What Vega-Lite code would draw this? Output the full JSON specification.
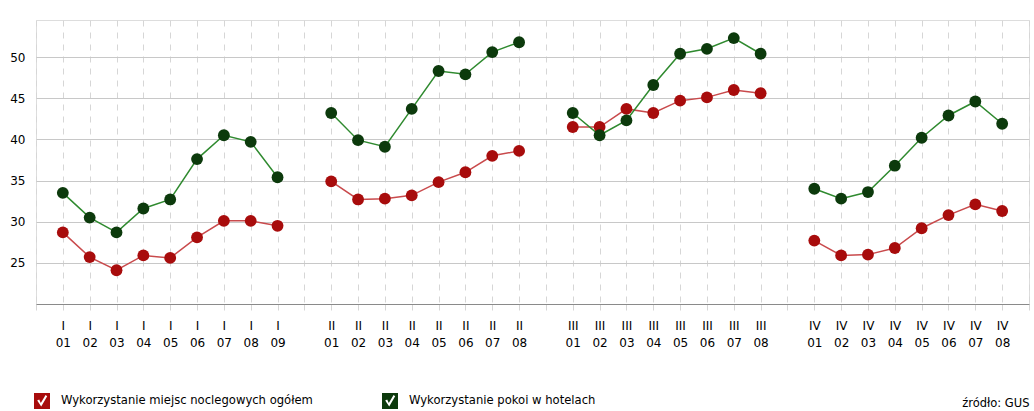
{
  "$schema": "https://vega.github.io/schema/vega-lite/v6.json",
  "width": 993,
  "height": 284,
  "autosize": "none",
  "padding": {"left": 36, "top": 20, "right": 5, "bottom": 107},
  "background": "white",
  "title": {"text": "źródło: GUS", "orient": "bottom", "anchor": "end", "fontSize": 11.5, "fontWeight": "normal", "font": "DejaVu Sans", "color": "#000000", "offset": 0, "dy": -11},
  "data": {"values": [
    {"k": "I 01", "q": "I", "s": "Wykorzystanie miejsc noclegowych ogółem", "v": 28.7},
    {"k": "I 02", "q": "I", "s": "Wykorzystanie miejsc noclegowych ogółem", "v": 25.7},
    {"k": "I 03", "q": "I", "s": "Wykorzystanie miejsc noclegowych ogółem", "v": 24.1},
    {"k": "I 04", "q": "I", "s": "Wykorzystanie miejsc noclegowych ogółem", "v": 25.9},
    {"k": "I 05", "q": "I", "s": "Wykorzystanie miejsc noclegowych ogółem", "v": 25.6},
    {"k": "I 06", "q": "I", "s": "Wykorzystanie miejsc noclegowych ogółem", "v": 28.1},
    {"k": "I 07", "q": "I", "s": "Wykorzystanie miejsc noclegowych ogółem", "v": 30.1},
    {"k": "I 08", "q": "I", "s": "Wykorzystanie miejsc noclegowych ogółem", "v": 30.1},
    {"k": "I 09", "q": "I", "s": "Wykorzystanie miejsc noclegowych ogółem", "v": 29.5},
    {"k": "II 01", "q": "II", "s": "Wykorzystanie miejsc noclegowych ogółem", "v": 34.9},
    {"k": "II 02", "q": "II", "s": "Wykorzystanie miejsc noclegowych ogółem", "v": 32.7},
    {"k": "II 03", "q": "II", "s": "Wykorzystanie miejsc noclegowych ogółem", "v": 32.8},
    {"k": "II 04", "q": "II", "s": "Wykorzystanie miejsc noclegowych ogółem", "v": 33.2},
    {"k": "II 05", "q": "II", "s": "Wykorzystanie miejsc noclegowych ogółem", "v": 34.8},
    {"k": "II 06", "q": "II", "s": "Wykorzystanie miejsc noclegowych ogółem", "v": 36.0},
    {"k": "II 07", "q": "II", "s": "Wykorzystanie miejsc noclegowych ogółem", "v": 38.0},
    {"k": "II 08", "q": "II", "s": "Wykorzystanie miejsc noclegowych ogółem", "v": 38.6},
    {"k": "III 01", "q": "III", "s": "Wykorzystanie miejsc noclegowych ogółem", "v": 41.5},
    {"k": "III 02", "q": "III", "s": "Wykorzystanie miejsc noclegowych ogółem", "v": 41.5},
    {"k": "III 03", "q": "III", "s": "Wykorzystanie miejsc noclegowych ogółem", "v": 43.7},
    {"k": "III 04", "q": "III", "s": "Wykorzystanie miejsc noclegowych ogółem", "v": 43.2},
    {"k": "III 05", "q": "III", "s": "Wykorzystanie miejsc noclegowych ogółem", "v": 44.7},
    {"k": "III 06", "q": "III", "s": "Wykorzystanie miejsc noclegowych ogółem", "v": 45.1},
    {"k": "III 07", "q": "III", "s": "Wykorzystanie miejsc noclegowych ogółem", "v": 46.0},
    {"k": "III 08", "q": "III", "s": "Wykorzystanie miejsc noclegowych ogółem", "v": 45.6},
    {"k": "IV 01", "q": "IV", "s": "Wykorzystanie miejsc noclegowych ogółem", "v": 27.7},
    {"k": "IV 02", "q": "IV", "s": "Wykorzystanie miejsc noclegowych ogółem", "v": 25.9},
    {"k": "IV 03", "q": "IV", "s": "Wykorzystanie miejsc noclegowych ogółem", "v": 26.0},
    {"k": "IV 04", "q": "IV", "s": "Wykorzystanie miejsc noclegowych ogółem", "v": 26.8},
    {"k": "IV 05", "q": "IV", "s": "Wykorzystanie miejsc noclegowych ogółem", "v": 29.2},
    {"k": "IV 06", "q": "IV", "s": "Wykorzystanie miejsc noclegowych ogółem", "v": 30.8},
    {"k": "IV 07", "q": "IV", "s": "Wykorzystanie miejsc noclegowych ogółem", "v": 32.1},
    {"k": "IV 08", "q": "IV", "s": "Wykorzystanie miejsc noclegowych ogółem", "v": 31.3},
    {"k": "I 01", "q": "I", "s": "Wykorzystanie pokoi w hotelach", "v": 33.5},
    {"k": "I 02", "q": "I", "s": "Wykorzystanie pokoi w hotelach", "v": 30.5},
    {"k": "I 03", "q": "I", "s": "Wykorzystanie pokoi w hotelach", "v": 28.7},
    {"k": "I 04", "q": "I", "s": "Wykorzystanie pokoi w hotelach", "v": 31.6},
    {"k": "I 05", "q": "I", "s": "Wykorzystanie pokoi w hotelach", "v": 32.7},
    {"k": "I 06", "q": "I", "s": "Wykorzystanie pokoi w hotelach", "v": 37.6},
    {"k": "I 07", "q": "I", "s": "Wykorzystanie pokoi w hotelach", "v": 40.5},
    {"k": "I 08", "q": "I", "s": "Wykorzystanie pokoi w hotelach", "v": 39.7},
    {"k": "I 09", "q": "I", "s": "Wykorzystanie pokoi w hotelach", "v": 35.4},
    {"k": "II 01", "q": "II", "s": "Wykorzystanie pokoi w hotelach", "v": 43.2},
    {"k": "II 02", "q": "II", "s": "Wykorzystanie pokoi w hotelach", "v": 39.9},
    {"k": "II 03", "q": "II", "s": "Wykorzystanie pokoi w hotelach", "v": 39.1},
    {"k": "II 04", "q": "II", "s": "Wykorzystanie pokoi w hotelach", "v": 43.7},
    {"k": "II 05", "q": "II", "s": "Wykorzystanie pokoi w hotelach", "v": 48.3},
    {"k": "II 06", "q": "II", "s": "Wykorzystanie pokoi w hotelach", "v": 47.9},
    {"k": "II 07", "q": "II", "s": "Wykorzystanie pokoi w hotelach", "v": 50.6},
    {"k": "II 08", "q": "II", "s": "Wykorzystanie pokoi w hotelach", "v": 51.8},
    {"k": "III 01", "q": "III", "s": "Wykorzystanie pokoi w hotelach", "v": 43.2},
    {"k": "III 02", "q": "III", "s": "Wykorzystanie pokoi w hotelach", "v": 40.5},
    {"k": "III 03", "q": "III", "s": "Wykorzystanie pokoi w hotelach", "v": 42.3},
    {"k": "III 04", "q": "III", "s": "Wykorzystanie pokoi w hotelach", "v": 46.6},
    {"k": "III 05", "q": "III", "s": "Wykorzystanie pokoi w hotelach", "v": 50.4},
    {"k": "III 06", "q": "III", "s": "Wykorzystanie pokoi w hotelach", "v": 51.0},
    {"k": "III 07", "q": "III", "s": "Wykorzystanie pokoi w hotelach", "v": 52.3},
    {"k": "III 08", "q": "III", "s": "Wykorzystanie pokoi w hotelach", "v": 50.4},
    {"k": "IV 01", "q": "IV", "s": "Wykorzystanie pokoi w hotelach", "v": 34.0},
    {"k": "IV 02", "q": "IV", "s": "Wykorzystanie pokoi w hotelach", "v": 32.8},
    {"k": "IV 03", "q": "IV", "s": "Wykorzystanie pokoi w hotelach", "v": 33.6},
    {"k": "IV 04", "q": "IV", "s": "Wykorzystanie pokoi w hotelach", "v": 36.8},
    {"k": "IV 05", "q": "IV", "s": "Wykorzystanie pokoi w hotelach", "v": 40.2},
    {"k": "IV 06", "q": "IV", "s": "Wykorzystanie pokoi w hotelach", "v": 42.9},
    {"k": "IV 07", "q": "IV", "s": "Wykorzystanie pokoi w hotelach", "v": 44.6},
    {"k": "IV 08", "q": "IV", "s": "Wykorzystanie pokoi w hotelach", "v": 41.9}
  ]},
  "encoding": {
    "x": {
      "field": "k", "type": "nominal", "sort": null,
      "scale": {"type": "point", "padding": 0, "domain": ["g0","I 01","I 02","I 03","I 04","I 05","I 06","I 07","I 08","I 09","g10","II 01","II 02","II 03","II 04","II 05","II 06","II 07","II 08","g19","III 01","III 02","III 03","III 04","III 05","III 06","III 07","III 08","g28","IV 01","IV 02","IV 03","IV 04","IV 05","IV 06","IV 07","IV 08","g37"]},
      "axis": {
        "title": null, "labelAngle": 0, "grid": true, "gridDash": [6, 6], "gridColor": "#d6d6d6", "gridWidth": 1,
        "domainColor": "#8a8a8a", "domainWidth": 1,
        "ticks": true, "tickColor": "#d6d6d6", "tickDash": [6, 6], "tickSize": 12, "tickWidth": 1,
        "labelPadding": 4, "labelOverlap": false, "labelBound": false, "labelFlush": false,
        "labelExpr": "indexof(datum.value, 'g') == 0 ? '' : split(datum.value, ' ')",
        "labelFont": "DejaVu Sans", "labelFontSize": 12, "labelLineHeight": 17, "labelColor": "#000000"
      }
    },
    "y": {
      "field": "v", "type": "quantitative",
      "scale": {"domain": [20, 54.5], "nice": false, "zero": false},
      "axis": {
        "title": null, "values": [25, 30, 35, 40, 45, 50], "domain": false, "ticks": false,
        "labelPadding": 11, "grid": true, "gridColor": "#c8c8c8", "gridWidth": 1,
        "labelFont": "DejaVu Sans", "labelFontSize": 12, "labelColor": "#000000"
      }
    }
  },
  "layer": [
    {
      "mark": {"type": "line", "strokeWidth": 1.5},
      "encoding": {
        "color": {"field": "s", "type": "nominal", "scale": {"domain": ["Wykorzystanie miejsc noclegowych ogółem", "Wykorzystanie pokoi w hotelach"], "range": ["#c94a4c", "#2f8a2f"]}, "legend": null},
        "detail": {"field": "q", "type": "nominal"}
      }
    },
    {
      "mark": {"type": "circle", "size": 140, "opacity": 1},
      "encoding": {
        "color": {
          "field": "s", "type": "nominal",
          "scale": {"domain": ["Wykorzystanie miejsc noclegowych ogółem", "Wykorzystanie pokoi w hotelach"], "range": ["#a80c0c", "#0c3a0c"]},
          "legend": {
            "title": null, "orient": "none", "legendX": -2, "legendY": 373, "direction": "horizontal",
            "symbolType": "M-1,-1H1V1H-1Z M-0.6,-0.05 L-0.1,0.7 L0.65,-0.6 L0.45,-0.75 L-0.15,0.25 L-0.35,-0.2 Z",
            "symbolSize": 256, "symbolStrokeWidth": 0, "symbolOpacity": 1,
            "labelFont": "DejaVu Sans", "labelFontSize": 11.6, "labelColor": "#000000", "labelOffset": 11,
            "columnPadding": 69, "labelLimit": 400
          }
        }
      }
    }
  ],
  "resolve": {"scale": {"color": "independent"}}
}
